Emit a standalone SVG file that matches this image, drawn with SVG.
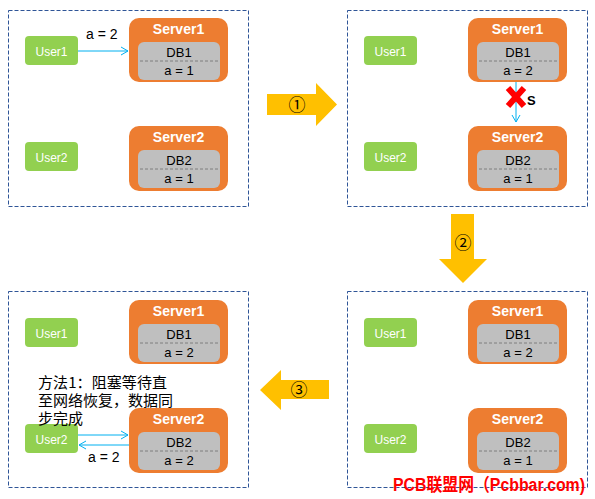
<svg xmlns="http://www.w3.org/2000/svg" width="595" height="499" viewBox="0 0 595 499">
<style>
text{font-family:"Liberation Sans","Noto Sans CJK SC",sans-serif}
.frame{fill:none;stroke:#2F5597;stroke-width:1;stroke-dasharray:4 2}
.user rect{fill:#92D050}
.user text{fill:#fff;font-size:12px;text-anchor:middle}
.srv .outer{fill:#ED7D31}
.srv .inner{fill:#BFBFBF}
.srv .title{fill:#fff;font-size:14px;font-weight:bold;text-anchor:middle}
.srv .db{fill:#000;font-size:13px;text-anchor:middle}
.srv .sep{stroke:#7F7F7F;stroke-width:1;stroke-dasharray:3 2}
.conn{stroke:#00B0F0;stroke-width:1;fill:none;marker-end:url(#ah)}
.big{fill:#FFC000}
.num{font-family:"Noto Sans CJK SC","DejaVu Sans",sans-serif;font-size:17px;text-anchor:middle;fill:#000}
.lbl{font-size:14px;fill:#000}
.note{font-family:"Noto Sans CJK SC",sans-serif;font-size:15px;fill:#000}
</style>
<defs>
<marker id="ah" markerUnits="userSpaceOnUse" markerWidth="9" markerHeight="10" refX="7" refY="4" orient="auto" overflow="visible">
<path d="M0,0 L7,4 L0,8" fill="none" stroke="#00B0F0" stroke-width="1"/>
</marker>
</defs>
<rect width="595" height="499" fill="#fff"/>

<!-- Panel 1 -->
<g id="panel1">
<rect class="frame" x="8.5" y="10.5" width="240" height="196"/>
<g id="p1-user1" class="user" transform="translate(25,36)"><rect width="53" height="29" rx="4"/><text x="26.5" y="19.5">User1</text></g>
<g id="p1-user2" class="user" transform="translate(25,142)"><rect width="53" height="29" rx="4"/><text x="26.5" y="19.5">User2</text></g>
<g id="p1-server1" class="srv" transform="translate(129,18)"><rect class="outer" width="99" height="64" rx="10"/><text class="title" x="49.5" y="16">Server1</text><rect class="inner" x="9" y="24" width="82" height="38" rx="6"/><line class="sep" x1="11" y1="43" x2="89" y2="43"/><text class="db" x="50" y="38.5">DB1</text><text class="db" x="50" y="57">a = 1</text></g>
<g id="p1-server2" class="srv" transform="translate(129,126)"><rect class="outer" width="99" height="65" rx="10"/><text class="title" x="49.5" y="16">Server2</text><rect class="inner" x="9" y="24" width="82" height="38" rx="6"/><line class="sep" x1="11" y1="43" x2="89" y2="43"/><text class="db" x="50" y="38.5">DB2</text><text class="db" x="50" y="57">a = 1</text></g>
</g>

<!-- Panel 2 -->
<g id="panel2">
<rect class="frame" x="347.5" y="10.5" width="240" height="196"/>
<g id="p2-user1" class="user" transform="translate(364,36)"><rect width="53" height="29" rx="4"/><text x="26.5" y="19.5">User1</text></g>
<g id="p2-user2" class="user" transform="translate(364,142)"><rect width="53" height="29" rx="4"/><text x="26.5" y="19.5">User2</text></g>
<g id="p2-server1" class="srv" transform="translate(468,18)"><rect class="outer" width="99" height="64" rx="10"/><text class="title" x="49.5" y="16">Server1</text><rect class="inner" x="9" y="24" width="82" height="38" rx="6"/><line class="sep" x1="11" y1="43" x2="89" y2="43"/><text class="db" x="50" y="38.5">DB1</text><text class="db" x="50" y="57">a = 2</text></g>
<g id="p2-server2" class="srv" transform="translate(468,126)"><rect class="outer" width="99" height="65" rx="10"/><text class="title" x="49.5" y="16">Server2</text><rect class="inner" x="9" y="24" width="82" height="38" rx="6"/><line class="sep" x1="11" y1="43" x2="89" y2="43"/><text class="db" x="50" y="38.5">DB2</text><text class="db" x="50" y="57">a = 1</text></g>
</g>

<!-- Panel 3 -->
<g id="panel3">
<rect class="frame" x="8.5" y="291.5" width="240" height="196"/>
<g id="p3-user1" class="user" transform="translate(25,318)"><rect width="53" height="29" rx="4"/><text x="26.5" y="19.5">User1</text></g>
<g id="p3-user2" class="user" transform="translate(25,424)"><rect width="53" height="29" rx="4"/><text x="26.5" y="19.5">User2</text></g>
<g id="p3-server1" class="srv" transform="translate(129,300)"><rect class="outer" width="99" height="64" rx="10"/><text class="title" x="49.5" y="16">Server1</text><rect class="inner" x="9" y="24" width="82" height="38" rx="6"/><line class="sep" x1="11" y1="43" x2="89" y2="43"/><text class="db" x="50" y="38.5">DB1</text><text class="db" x="50" y="57">a = 2</text></g>
<g id="p3-server2" class="srv" transform="translate(129,408)"><rect class="outer" width="99" height="65" rx="10"/><text class="title" x="49.5" y="16">Server2</text><rect class="inner" x="9" y="24" width="82" height="38" rx="6"/><line class="sep" x1="11" y1="43" x2="89" y2="43"/><text class="db" x="50" y="38.5">DB2</text><text class="db" x="50" y="57">a = 2</text></g>
<g id="p3-note">
<text class="note" x="38" y="388" textLength="129" lengthAdjust="spacing">方法1：阻塞等待直</text>
<text class="note" x="38" y="406">至网络恢复，数据同</text>
<text class="note" x="38" y="424">步完成</text>
</g>
</g>

<!-- Panel 4 -->
<g id="panel4">
<rect class="frame" x="347.5" y="291.5" width="240" height="196"/>
<g id="p4-user1" class="user" transform="translate(364,318)"><rect width="53" height="29" rx="4"/><text x="26.5" y="19.5">User1</text></g>
<g id="p4-user2" class="user" transform="translate(364,424)"><rect width="53" height="29" rx="4"/><text x="26.5" y="19.5">User2</text></g>
<g id="p4-server1" class="srv" transform="translate(468,300)"><rect class="outer" width="99" height="64" rx="10"/><text class="title" x="49.5" y="16">Server1</text><rect class="inner" x="9" y="24" width="82" height="38" rx="6"/><line class="sep" x1="11" y1="43" x2="89" y2="43"/><text class="db" x="50" y="38.5">DB1</text><text class="db" x="50" y="57">a = 2</text></g>
<g id="p4-server2" class="srv" transform="translate(468,408)"><rect class="outer" width="99" height="65" rx="10"/><text class="title" x="49.5" y="16">Server2</text><rect class="inner" x="9" y="24" width="82" height="38" rx="6"/><line class="sep" x1="11" y1="43" x2="89" y2="43"/><text class="db" x="50" y="38.5">DB2</text><text class="db" x="50" y="57">a = 1</text></g>
</g>

<!-- Step arrows -->
<g id="step1"><polygon class="big" points="267,94 316,94 316,83 337,104.5 316,126 316,115 267,115"/><text class="num" x="297" y="110.5">①</text></g>
<g id="step2"><polygon class="big" points="451,214 474,214 474,259 487,259 463,283 439,259 451,259"/><text class="num" x="463" y="249">②</text></g>
<g id="step3"><polygon class="big" points="329,380 329,399 281,399 281,410 260,390 281,370 281,380"/><text class="num" x="299" y="396">③</text></g>

<!-- Connectors -->
<g id="connectors">
<line class="conn" x1="78" y1="51" x2="128" y2="51"/>
<text class="lbl" x="86" y="39">a = 2</text>
<line class="conn" x1="516" y1="82" x2="516" y2="122"/>
<g id="break">
<path d="M508,88 L524,106 M524,88 L508,106" stroke="#FF0000" stroke-width="6" fill="none"/>
<text x="527" y="105" font-size="13" font-weight="bold" fill="#000">S</text>
</g>
<line class="conn" x1="78" y1="435" x2="128" y2="435"/>
<line class="conn" x1="129" y1="445" x2="79" y2="445"/>
<text class="lbl" x="88" y="462">a = 2</text>
</g>

<text x="393" y="491" font-size="18" font-weight="bold" fill="#FF0000" font-family="'Liberation Mono','Noto Sans CJK SC',monospace" textLength="192" lengthAdjust="spacingAndGlyphs">PCB联盟网（Pcbbar.com)</text>
</svg>
